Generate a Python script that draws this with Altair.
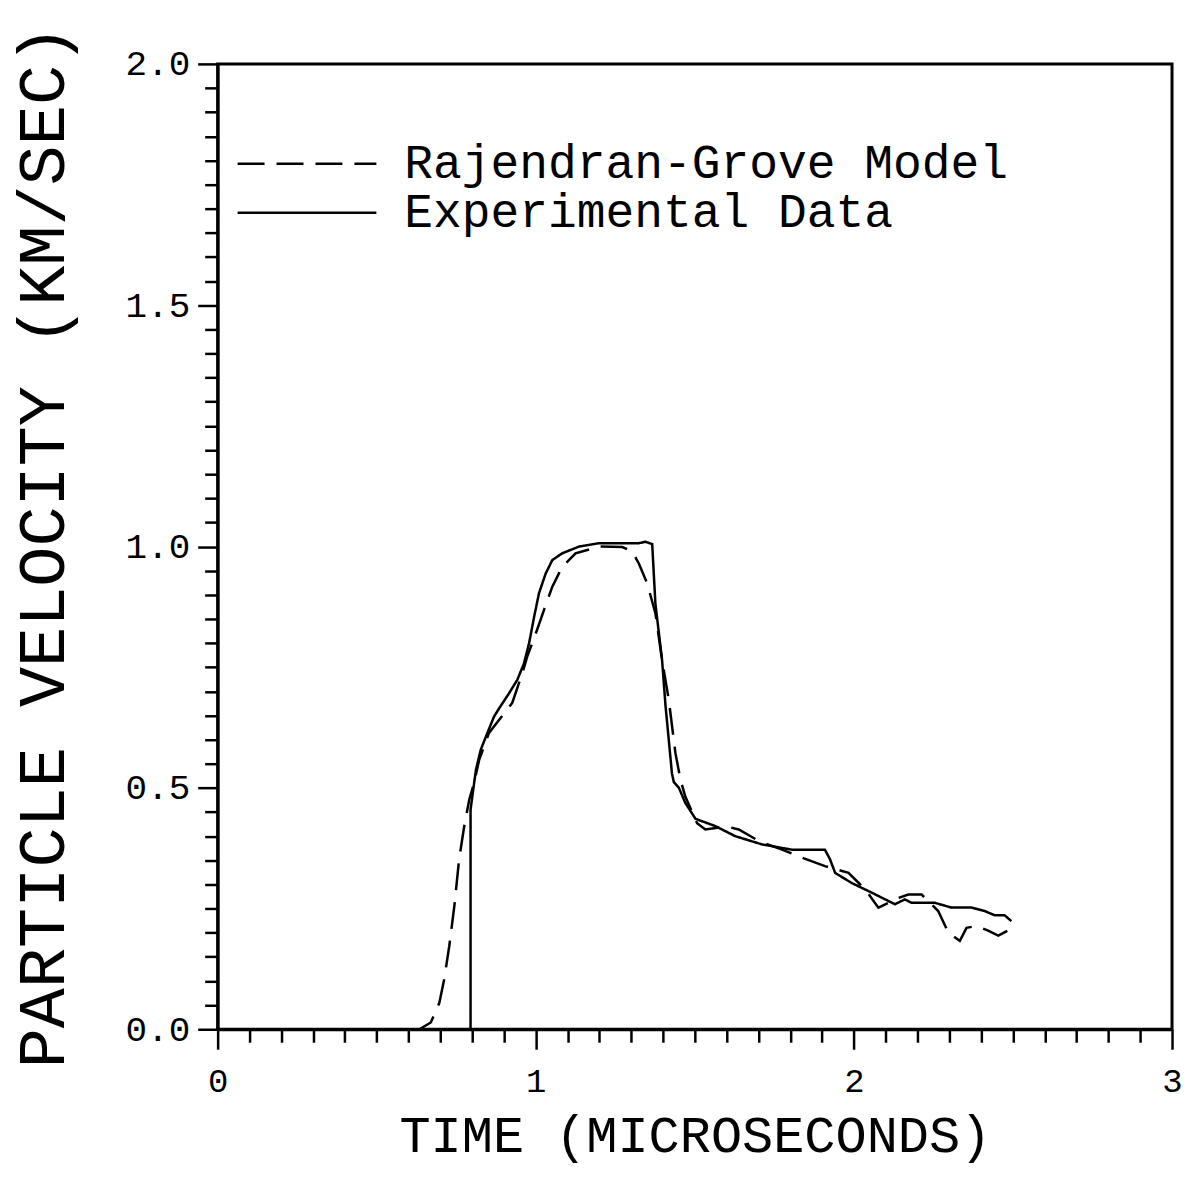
import altair as alt
import pandas as pd

# Experimental data (solid line)
exp_t = [0.0, 0.795, 0.795, 0.812, 0.827, 0.848, 0.869, 0.885, 0.916, 0.942, 0.963, 0.979,
         0.995, 1.010, 1.031, 1.052, 1.083, 1.136, 1.199, 1.324, 1.345, 1.366, 1.376, 1.397,
         1.408, 1.418, 1.428, 1.434, 1.450, 1.470, 1.502, 1.564, 1.627, 1.711, 1.805, 1.909,
         1.925, 1.941, 1.993, 2.056, 2.129, 2.160, 2.181, 2.254, 2.307, 2.370, 2.411, 2.443,
         2.474, 2.495]
exp_v = [0.0, 0.0, 0.455, 0.538, 0.579, 0.614, 0.648, 0.665, 0.696, 0.724, 0.758, 0.800,
         0.855, 0.903, 0.944, 0.972, 0.986, 1.000, 1.007, 1.007, 1.010, 1.005, 0.882, 0.765,
         0.669, 0.600, 0.530, 0.512, 0.500, 0.469, 0.436, 0.421, 0.400, 0.383, 0.372, 0.372,
         0.352, 0.324, 0.303, 0.283, 0.259, 0.269, 0.262, 0.262, 0.252, 0.252, 0.245, 0.236,
         0.236, 0.224]

# Rajendran-Grove model (dashed line)
model_t = [0.0, 0.634, 0.670, 0.697, 0.712, 0.728, 0.744, 0.759, 0.775, 0.791, 0.806, 0.822,
           0.853, 0.885, 0.926, 0.958, 0.973, 1.000, 1.026, 1.052, 1.083, 1.125, 1.199, 1.272,
           1.303, 1.324, 1.350, 1.376, 1.397, 1.418, 1.439, 1.455, 1.470, 1.507, 1.533, 1.600,
           1.638, 1.701, 1.774, 1.843, 1.909, 1.983, 2.035, 2.077, 2.140, 2.171, 2.213, 2.265,
           2.297, 2.333, 2.354, 2.385, 2.420, 2.454, 2.485]
model_v = [0.0, 0.0, 0.014, 0.055, 0.103, 0.172, 0.255, 0.352, 0.420, 0.476, 0.510, 0.558,
           0.614, 0.641, 0.676, 0.738, 0.772, 0.820, 0.869, 0.917, 0.958, 0.986, 1.000, 0.999,
           0.990, 0.965, 0.924, 0.862, 0.765, 0.683, 0.572, 0.517, 0.482, 0.427, 0.414, 0.420,
           0.414, 0.390, 0.372, 0.354, 0.338, 0.324, 0.290, 0.252, 0.272, 0.279, 0.279, 0.245,
           0.200, 0.183, 0.210, 0.214, 0.205, 0.194, 0.205]

series_names = ["Rajendran-Grove Model", "Experimental Data"]
legend_rows = [0, 1]

x_tick_values = [round(i * 0.1, 2) for i in range(31)]
y_tick_values = [round(i * 0.05, 2) for i in range(41)]

rows = []
for i, (t, v) in enumerate(zip(model_t, model_v)):
    rows.append({"series": series_names[0], "t": t, "v": v, "i": i})
for i, (t, v) in enumerate(zip(exp_t, exp_v)):
    rows.append({"series": series_names[1], "t": t, "v": v, "i": i})
df = pd.DataFrame(rows)

legend_df = pd.DataFrame({"series": series_names, "row": legend_rows})

FONT = "Liberation Mono"
DASH_SCALE = alt.Scale(domain=series_names, range=[[27, 12], [1, 0]])

x_axis = alt.Axis(
    values=x_tick_values,
    labelExpr="abs(datum.value - round(datum.value)) < 1e-6 ? format(datum.value, 'd') : ''",
    tickSize={"condition": {"test": "abs(datum.value - round(datum.value)) < 1e-6", "value": 20}, "value": 13},
    tickWidth=2.5,
    tickColor="black",
    domainColor="black",
    domainWidth=3,
    grid=False,
    labelOverlap=False,
    labelFlush=False,
    labelFont=FONT,
    labelFontSize=34,
    labelColor="black",
    labelPadding=15,
    title="TIME (MICROSECONDS)",
    titleFont=FONT,
    titleFontSize=52,
    titleFontWeight="normal",
    titleColor="black",
    titleY=122,
    titleBaseline="alphabetic",
)

y_axis = alt.Axis(
    values=y_tick_values,
    labelExpr="abs(datum.value * 2 - round(datum.value * 2)) < 1e-6 ? format(datum.value, '.1f') : ''",
    tickSize={"condition": {"test": "abs(datum.value * 2 - round(datum.value * 2)) < 1e-6", "value": 20}, "value": 13},
    tickWidth=2.5,
    tickColor="black",
    domainColor="black",
    domainWidth=3,
    grid=False,
    labelOverlap=False,
    labelFlush=False,
    labelFont=FONT,
    labelFontSize=36,
    labelColor="black",
    labelPadding=8,
    title="PARTICLE VELOCITY (KM/SEC)",
    titleFont=FONT,
    titleFontSize=67,
    titleFontWeight="normal",
    titleColor="black",
    titleAngle=270,
    titleX=-174,
    titleY=483,
    titleAlign="center",
    titleBaseline="middle",
)

lines = alt.Chart(df).mark_line(color="black", strokeWidth=2.5).encode(
    x=alt.X("t:Q", scale=alt.Scale(domain=[0, 3], nice=False, zero=False), axis=x_axis),
    y=alt.Y("v:Q", scale=alt.Scale(domain=[0, 2], nice=False), axis=y_axis),
    strokeDash=alt.StrokeDash("series:N", scale=DASH_SCALE, legend=None),
    order="i:Q",
    detail="series:N",
)

legend_lines = alt.Chart(legend_df).transform_calculate(
    ly="100 + datum.row * 49"
).mark_rule(color="black", strokeWidth=2.5).encode(
    x=alt.value(20),
    x2=alt.value(159),
    y=alt.Y("ly:Q", scale=None, axis=None),
    strokeDash=alt.StrokeDash("series:N", scale=DASH_SCALE, legend=None),
)

legend_text = alt.Chart(legend_df).transform_calculate(
    ly="100 + datum.row * 49"
).mark_text(
    align="left", baseline="middle", font=FONT, fontSize=48, color="black"
).encode(
    x=alt.value(187),
    y=alt.Y("ly:Q", scale=None, axis=None),
    text="series:N",
)

chart = alt.layer(lines, legend_lines, legend_text).properties(
    width=956,
    height=967,
    padding={"left": 210, "top": 55, "right": 16, "bottom": 138},
    autosize=alt.AutoSizeParams(type="none"),
    background="white",
).configure_view(
    stroke="black",
    strokeWidth=3,
)

chart.save("out.html", embed_options={"renderer": "svg", "actions": False})
